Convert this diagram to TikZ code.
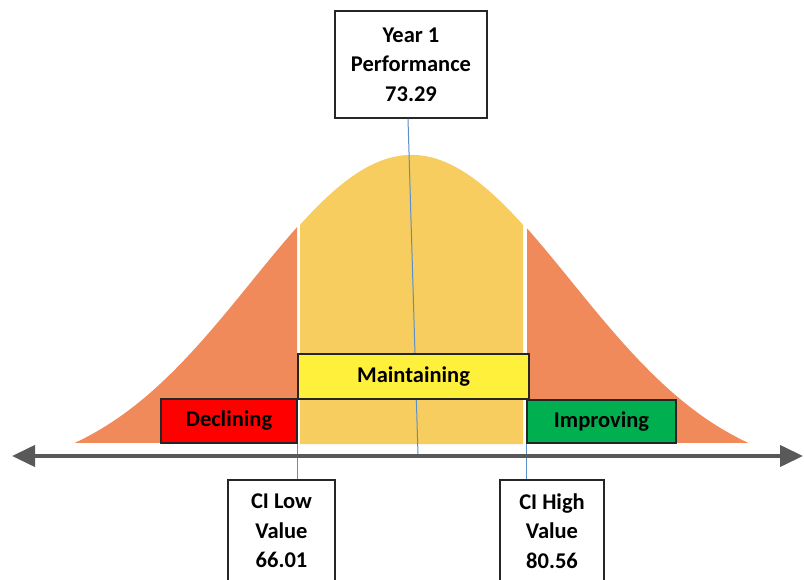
\documentclass[tikz,border=0pt]{standalone}
\usepackage{fontspec}
\setmainfont{Carlito}
\usetikzlibrary{arrows.meta}
\definecolor{tailorange}{HTML}{F08A5B}
\definecolor{midyellow}{HTML}{F6CD5E}
\definecolor{boxyellow}{HTML}{FFF03C}
\definecolor{boxred}{HTML}{FF0000}
\definecolor{boxgreen}{HTML}{00B050}
\definecolor{axisgray}{HTML}{595959}
\definecolor{leader}{HTML}{5B8FC8}
\begin{document}
\begin{tikzpicture}[x=1pt,y=-1pt,
  labelbox/.style={draw=black!85, line width=1.2pt, fill=white, align=center,
    font=\fontsize{22.5}{29.5}\selectfont\bfseries, inner sep=0pt},
  bandbox/.style={draw=black!85, line width=1.2pt,
    font=\fontsize{22.5}{26}\selectfont\bfseries, inner sep=0pt},
  leaderline/.style={draw=leader, line width=1pt},
  axisline/.style={draw=axisgray, line width=4pt,
    {Triangle[length=23pt,width=21pt]}-{Triangle[length=23pt,width=21pt]}}]
\clip (0,0) rectangle (804,580);
\fill[white] (0,0) rectangle (804,580);
% bell curve regions
\fill[tailorange] plot[domain=75:297, samples=80] (\x, {443 - (324.3*exp(-((\x-411.5)/226.27)^2) - 35.3)}) -- (297,443) -- cycle;
\fill[midyellow] plot[domain=300:523, samples=80] (\x, {444 - (324.3*exp(-((\x-411.5)/226.27)^2) - 35.3)}) -- (523,444) -- (300,444) -- cycle;
\fill[tailorange] plot[domain=527:748, samples=80] (\x, {443 - (324.3*exp(-((\x-411.5)/226.27)^2) - 35.3)}) -- (527,443) -- cycle;
% nodes
\node[labelbox, minimum width=152, minimum height=107] (year) at (411,64.5) {Year 1\\Performance\\73.29};
\node[labelbox, minimum width=107, minimum height=102] (cilow) at (281.5,531) {CI Low\\Value\\66.01};
\node[labelbox, minimum width=104, minimum height=102] (cihigh) at (552,531) {CI High\\Value\\80.56};
\coordinate (yearfoot) at (418,455);
\coordinate (axl) at (12,456);
\coordinate (axr) at (803,456);
% leader lines
\draw[leaderline] ([xshift=-3pt]year.south) -- (yearfoot);
% bands
\node[bandbox, fill=boxred, minimum width=136, minimum height=44] (decl) at (229,421) {Declining};
\node[bandbox, fill=boxgreen, minimum width=149, minimum height=43] (impr) at (601.5,421.5) {Improving};
\draw[leaderline] (decl.south east) -- (decl.south east |- cilow.north);
\draw[leaderline] (impr.south west) -- (impr.south west |- cihigh.north);
\node[bandbox, fill=boxyellow, minimum width=231, minimum height=45] (maint) at (413.5,376.5) {Maintaining};
% axis
\draw[axisline] (axl) -- (axr);
\end{tikzpicture}
\end{document}
